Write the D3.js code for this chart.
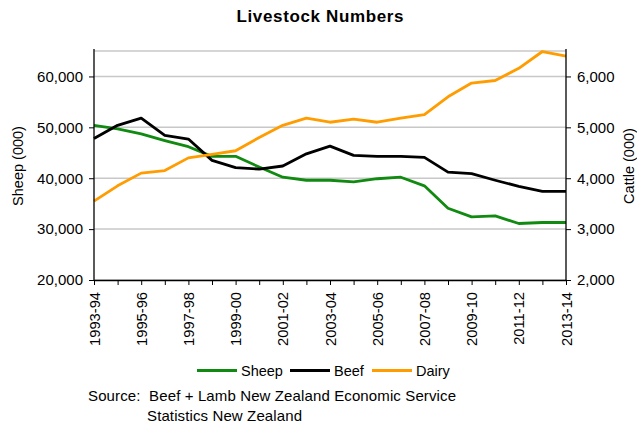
<!DOCTYPE html>
<html><head><meta charset="utf-8">
<script src="https://cdn.jsdelivr.net/npm/d3@7"></script>
<style>
body{margin:0;background:#fff;}
svg{font-family:"Liberation Sans",Arial,sans-serif;}
</style></head>
<body><svg id="c" width="637" height="424"></svg>
<script>
const categories = ["1993-94","1994-95","1995-96","1996-97","1997-98","1998-99","1999-00","2000-01","2001-02","2002-03","2003-04","2004-05","2005-06","2006-07","2007-08","2008-09","2009-10","2010-11","2011-12","2012-13","2013-14"];
const sheep = [50400,49700,48700,47400,46200,44300,44300,42200,40200,39600,39600,39300,39900,40200,38500,34100,32400,32600,31100,31300,31300];
const beef  = [4780,5040,5180,4840,4770,4350,4210,4180,4240,4480,4630,4450,4430,4430,4410,4120,4090,3960,3840,3740,3740];
const dairy = [3550,3850,4100,4150,4400,4470,4540,4800,5040,5180,5100,5160,5100,5180,5250,5600,5870,5920,6160,6490,6400];
const leftTicks = [20000,30000,40000,50000,60000];
const rightTicks = [2000,3000,4000,5000,6000];
const labelCats = categories.filter((d,i)=>i%2===0);

const svg = d3.select("#c");
const L=94, R=566, T=51, B=280;
const x = d3.scalePoint().domain(categories).range([L,R]);
const yL = d3.scaleLinear().domain([20000,65000]).range([B,T]);
const yR = d3.scaleLinear().domain([2000,6500]).range([B,T]);
const fmt = d3.format(",");

// gridlines
svg.append("g").selectAll("line").data(leftTicks.concat([65000])).join("line")
  .attr("x1",L).attr("x2",R).attr("y1",d=>yL(d)).attr("y2",d=>yL(d))
  .attr("stroke","#c8c8c8").attr("stroke-width",1.5);

// lines
const series = [
  {name:"Sheep", vals:sheep, y:yL, color:"#108a10"},
  {name:"Beef", vals:beef, y:yR, color:"#000000"},
  {name:"Dairy", vals:dairy, y:yR, color:"#ff9c00"}
];
series.forEach(s=>{
  const line = d3.line().x((d,i)=>x(categories[i])).y(d=>s.y(d));
  svg.append("path").datum(s.vals).attr("d",line).attr("fill","none")
    .attr("stroke",s.color).attr("stroke-width",2.8).attr("stroke-linejoin","round");
});

// axes
const gl = svg.append("g").attr("transform",`translate(${L},0)`)
  .call(d3.axisLeft(yL).tickValues(leftTicks).tickFormat(fmt).tickSize(5).tickSizeOuter(0));
const gr = svg.append("g").attr("transform",`translate(${R},0)`)
  .call(d3.axisRight(yR).tickValues(rightTicks).tickFormat(fmt).tickSize(5).tickSizeOuter(0));
const gx = svg.append("g").attr("transform",`translate(0,${B})`)
  .call(d3.axisBottom(x).tickSize(5).tickSizeOuter(0).tickFormat(d=>labelCats.includes(d)?d:""));
[gl,gr,gx].forEach(g=>{
  g.select(".domain").attr("stroke","#000").attr("stroke-width",1.3);
  g.selectAll(".tick line").attr("stroke","#000");
  g.selectAll("text").attr("font-size",15).attr("fill","#000").attr("font-family","Liberation Sans, Arial, sans-serif");
});
gl.select(".domain").attr("d",`M0,${T-2}V${B}`);
gr.select(".domain").attr("d",`M0,${T-2}V${B}`);
gl.selectAll("text").attr("x",-11);
gr.selectAll("text").attr("x",11);
gx.selectAll("text").attr("font-size",14.7).attr("transform","rotate(-90)").attr("text-anchor","end")
  .attr("x",-12).attr("y",0).attr("dy","0.35em");

// titles
svg.append("text").attr("x",320).attr("y",22).attr("text-anchor","middle")
  .attr("font-size",17).attr("font-weight","bold").attr("textLength",167).text("Livestock Numbers");
svg.append("text").attr("transform",`translate(23,166) rotate(-90)`).attr("text-anchor","middle")
  .attr("font-size",14.5).text("Sheep (000)");
svg.append("text").attr("transform",`translate(634,166) rotate(-90)`).attr("text-anchor","middle")
  .attr("font-size",14.5).text("Cattle (000)");

// legend
const lg = svg.append("g");
const lx = [197,290,372];
series.forEach((s,i)=>{
  lg.append("line").attr("x1",lx[i]).attr("x2",lx[i]+40).attr("y1",370.5).attr("y2",370.5)
    .attr("stroke",s.color).attr("stroke-width",2.8);
  lg.append("text").attr("x",lx[i]+44).attr("y",376).attr("font-size",14.5).text(s.name);
});
svg.append("text").attr("x",88).attr("y",401).attr("font-size",15).attr("xml:space","preserve")
  .attr("textLength",368).text("Source:  Beef + Lamb New Zealand Economic Service");
svg.append("text").attr("x",147).attr("y",421).attr("font-size",15).attr("textLength",155).text("Statistics New Zealand");
</script></body></html>
